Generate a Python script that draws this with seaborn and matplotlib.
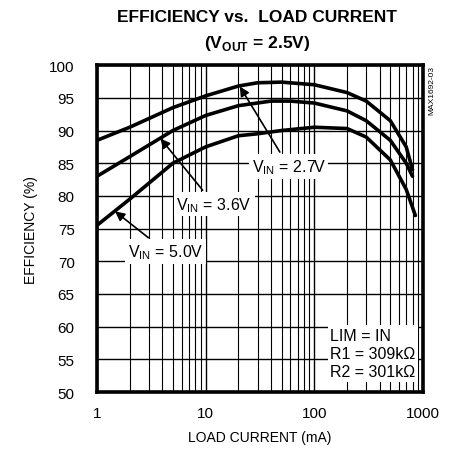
import seaborn as sns
import matplotlib.pyplot as plt
import pandas as pd
from matplotlib.ticker import FixedLocator, NullFormatter, NullLocator

# load current (mA) and efficiency (%)
i_27 = [1, 2, 5, 10, 20, 30, 50, 100, 200, 300, 500, 700, 800]
eff_27 = [88.5, 90.5, 93.5, 95.3, 96.8, 97.3, 97.4, 97.0, 95.8, 94.5, 91.5, 87.5, 84.0]
i_36 = [1, 2, 5, 10, 20, 40, 60, 100, 200, 300, 500, 700, 800]
eff_36 = [83.0, 86.0, 90.0, 92.3, 93.8, 94.5, 94.5, 94.2, 93.0, 91.5, 88.5, 85.0, 83.0]
i_50 = [1, 2, 5, 10, 20, 30, 50, 100, 200, 300, 500, 700, 850]
eff_50 = [75.5, 79.5, 85.0, 87.5, 89.2, 89.5, 90.0, 90.5, 90.3, 89.0, 85.5, 81.0, 77.0]

x_ticks = [1, 10, 100, 1000]
x_tick_labels = ["1", "10", "100", "1000"]
y_ticks = [50, 55, 60, 65, 70, 75, 80, 85, 90, 95, 100]

df = pd.concat([
    pd.DataFrame({"current": i_27, "eff": eff_27, "vin": "2.7"}),
    pd.DataFrame({"current": i_36, "eff": eff_36, "vin": "3.6"}),
    pd.DataFrame({"current": i_50, "eff": eff_50, "vin": "5.0"}),
])

sns.set_style("white")
plt.rcParams['font.family'] = ['Liberation Sans Narrow', 'Liberation Sans', 'DejaVu Sans']
plt.rcParams['mathtext.fontset'] = 'custom'
plt.rcParams['mathtext.rm'] = 'Liberation Sans Narrow'
plt.rcParams['text.color'] = 'black'
plt.rcParams['axes.labelcolor'] = 'black'
plt.rcParams['xtick.color'] = 'black'
plt.rcParams['ytick.color'] = 'black'

fig = plt.figure(figsize=(4.51, 4.56), dpi=100)
ax = fig.add_axes([0.215, 0.138, 0.723, 0.717])

sns.lineplot(data=df, x="current", y="eff", hue="vin", units="vin", estimator=None,
             palette=["black", "black", "black"], linewidth=2.6, legend=False, ax=ax)

ax.set_xscale("log")
ax.set_xlim(1, 1000)
ax.set_ylim(50, 100)

minor = [m * 10 ** d for d in range(3) for m in range(2, 10)]
ax.xaxis.set_major_locator(FixedLocator(x_ticks))
ax.xaxis.set_minor_locator(FixedLocator(minor))
ax.xaxis.set_minor_formatter(NullFormatter())
ax.set_xticklabels(x_tick_labels)
ax.set_yticks(y_ticks)
ax.yaxis.set_minor_locator(NullLocator())
ax.tick_params(axis="both", which="both", length=0, labelsize=11)
ax.tick_params(axis="x", pad=10)
ax.tick_params(axis="y", pad=16)

ax.grid(True, which="major", color="black", linewidth=1.0)
ax.grid(True, which="minor", axis="x", color="black", linewidth=0.8)
for s in ax.spines.values():
    s.set_linewidth(2.6)
    s.set_color("black")

ax.set_xlabel("LOAD CURRENT (mA)", fontsize=10, labelpad=7)
ax.set_ylabel("EFFICIENCY (%)", fontsize=10, labelpad=8)

fig.text(0.57, 0.962, "EFFICIENCY vs.  LOAD CURRENT", ha="center", va="center",
         fontsize=12.5, fontweight="bold")
fig.text(0.57, 0.905, "(V$_{\\mathregular{OUT}}$ = 2.5V)", ha="center", va="center",
         fontsize=12.5, fontweight="bold")
fig.text(0.958, 0.855, "MAX1692-03", rotation=90, ha="center", va="top", fontsize=6)

box = dict(facecolor="white", edgecolor="none", pad=2)
arrow = dict(arrowstyle="-|>", color="black", lw=1.2, mutation_scale=14)
ax.annotate("V$_{\\mathregular{IN}}$ = 2.7V", xy=(20, 97.1), xytext=(58, 84.5),
            ha="center", va="center", fontsize=11.5, bbox=box, arrowprops=arrow)
ax.annotate("V$_{\\mathregular{IN}}$ = 3.6V", xy=(3.7, 89.1), xytext=(12, 78.7),
            ha="center", va="center", fontsize=11.5, bbox=box, arrowprops=arrow)
ax.annotate("V$_{\\mathregular{IN}}$ = 5.0V", xy=(1.4, 77.9), xytext=(4.3, 71.5),
            ha="center", va="center", fontsize=11.5, bbox=box, arrowprops=arrow)

ax.text(140, 52.0, "LIM = IN\nR1 = 309k\u03a9\nR2 = 301k\u03a9", ha="left", va="bottom",
        fontsize=11.5, linespacing=1.25, bbox=dict(facecolor="white", edgecolor="none", pad=2))

fig.savefig("out.png", dpi=100)
